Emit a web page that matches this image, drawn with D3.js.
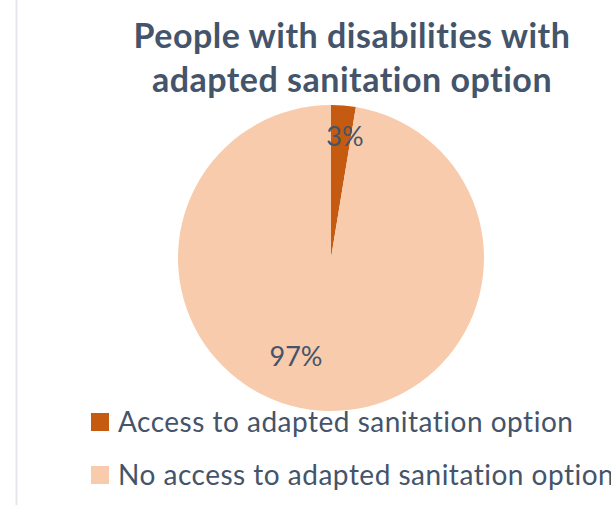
<!DOCTYPE html>
<html>
<head>
<meta charset="utf-8">
<script src="https://cdn.jsdelivr.net/npm/d3@7"></script>
<style>
  body { margin: 0; background: #fff; overflow: hidden; }
  text { font-family: Lato, "Open Sans", sans-serif; font-variant-ligatures: none; }
</style>
</head>
<body>
<svg id="chart" width="611" height="505"></svg>
<script>
const categories = ['Access to adapted sanitation option', 'No access to adapted sanitation option'];
const values = [2.6, 97.4];
const colors = ['#C55A11', '#F8CBAD'];
const titleLines = ['People with disabilities with', 'adapted sanitation option'];

const svg = d3.select('#chart');
const textColor = '#44546A';

// left border of the chart frame
svg.append('line')
    .attr('x1', 16.5).attr('x2', 16.5)
    .attr('y1', 0).attr('y2', 505)
    .attr('stroke', '#E3E7EC')
    .attr('stroke-width', 2);

svg.append('g')
    .selectAll('text')
    .data(titleLines)
    .enter()
    .append('text')
    .attr('x', 352)
    .attr('y', (d, i) => 48 + i * 44)
    .attr('text-anchor', 'middle')
    .attr('font-size', 34)
    .attr('font-weight', 'bold')
    .attr('letter-spacing', 0.5)
    .attr('fill', textColor)
    .text(d => d);

const cx = 331, cy = 258, r = 153;
const data = categories.map((c, i) => ({ name: c, value: values[i], color: colors[i] }));

const pie = d3.pie().sort(null).value(d => d.value);
const arc = d3.arc().innerRadius(0).outerRadius(r);
const arcs = pie(data);

const g = svg.append('g').attr('transform', `translate(${cx},${cy})`);

g.selectAll('path')
    .data(arcs)
    .enter()
    .append('path')
    .attr('d', arc)
    .attr('fill', d => d.data.color);

// data labels
const labelPos = [[14, -112], [-35, 108]];
g.selectAll('.lbl')
    .data(arcs)
    .enter()
    .append('text')
    .attr('class', 'lbl')
    .attr('x', (d, i) => labelPos[i][0])
    .attr('y', (d, i) => labelPos[i][1])
    .attr('text-anchor', 'middle')
    .attr('font-size', 27)
    .attr('fill', textColor)
    .text(d => Math.round(d.data.value) + '%');

// legend
const legend = svg.append('g')
    .selectAll('g')
    .data(data)
    .enter()
    .append('g')
    .attr('transform', (d, i) => `translate(91, ${413 + i * 53})`);

legend.append('rect')
    .attr('width', 18).attr('height', 18)
    .attr('fill', d => d.color);

legend.append('text')
    .attr('x', 27)
    .attr('y', 19)
    .attr('font-size', 28)
    .attr('letter-spacing', 0.5)
    .attr('fill', textColor)
    .text(d => d.name);
</script>
</body>
</html>
